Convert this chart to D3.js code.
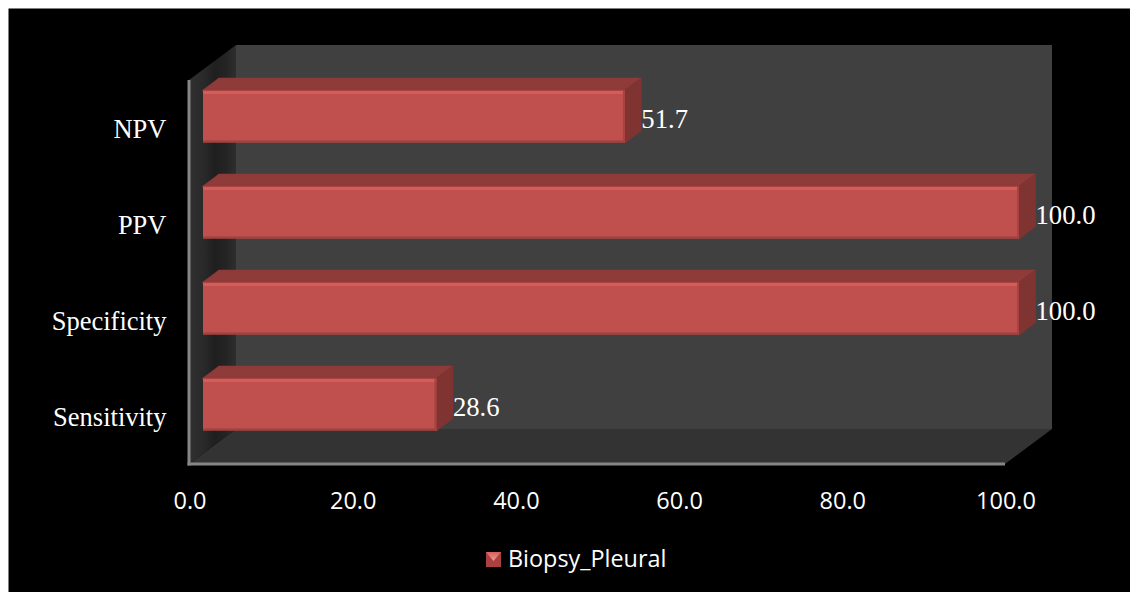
<!DOCTYPE html>
<html>
<head>
<meta charset="utf-8">
<script src="https://cdnjs.cloudflare.com/ajax/libs/d3/7.8.5/d3.min.js"></script>
<style>
  html, body { margin: 0; padding: 0; background: #fff; overflow: hidden; }
  svg { display: block; }
</style>
</head>
<body>
<svg id="chart" width="1130" height="592"></svg>
<script>
// Diagnostic performance of pleural biopsy, drawn as a pseudo-3D horizontal bar chart.
const categories = ["Sensitivity", "Specificity", "PPV", "NPV"];
const values = [28.6, 100.0, 100.0, 51.7];
const valueLabels = ["28.6", "100.0", "100.0", "51.7"];
const axisTicks = [0, 20, 40, 60, 80, 100];
const seriesName = "Biopsy_Pleural";

const svg = d3.select("#chart");
const SERIF = "'Liberation Serif', serif";
const SANS = "'Open Sans', sans-serif";

// Plot box and the oblique offset of the back wall
const plot = { left: 189, right: 1005, top: 80, bottom: 464 };
const depth = { dx: 47, dy: -35 };
const barDepth = { dx: 16, dy: -12 };
const barInset = { dx: 14, dy: -11.5 };
const barHeight = 52;

const x = d3.scaleLinear().domain([0, 100]).range([plot.left, plot.right]);
const y = d3.scaleBand().domain(categories).range([plot.bottom, plot.top]);
const pts = arr => arr.map(p => p.join(",")).join(" ");

const defs = svg.append("defs");
const edge = defs.append("filter").attr("id", "edge")
  .attr("x", "-5%").attr("y", "-100%").attr("width", "110%").attr("height", "300%");
edge.append("feGaussianBlur").attr("stdDeviation", 0.7);
const endEdge = defs.append("filter").attr("id", "endEdge")
  .attr("x", "-200%").attr("y", "-5%").attr("width", "500%").attr("height", "110%");
endEdge.append("feGaussianBlur").attr("stdDeviation", 0.7);

// Horizontal falloff of the shadow on the side wall
const wallShade = defs.append("linearGradient").attr("id", "wallShade")
  .attr("x1", 0).attr("x2", 1).attr("y1", 0).attr("y2", 0);
[[0, "#303030"], [0.3, "#2a2a2a"], [0.55, "#1f1f1f"], [0.78, "#242424"], [1, "#2e2e2e"]]
  .forEach(([o, c]) => wallShade.append("stop").attr("offset", o).attr("stop-color", c));

const legendTop = defs.append("linearGradient").attr("id", "legendTop")
  .attr("x1", 0).attr("x2", 0).attr("y1", 0).attr("y2", 1);
legendTop.append("stop").attr("offset", 0).attr("stop-color", "#d4605c");
legendTop.append("stop").attr("offset", 1).attr("stop-color", "#f09a94");

// Black chart area, leaving the white page margin at top and left
svg.append("rect").attr("x", 8.5).attr("y", 8.5).attr("width", 1122).attr("height", 584).attr("fill", "#000");

const poly = (p, fill) => svg.append("polygon").attr("points", pts(p)).attr("fill", fill);

// Back wall, floor and side wall
const sideWall = [[plot.left, plot.top], [plot.left + depth.dx, plot.top + depth.dy],
  [plot.left + depth.dx, plot.bottom + depth.dy], [plot.left, plot.bottom]];
poly([[plot.left + depth.dx, plot.top + depth.dy], [plot.right + depth.dx, plot.top + depth.dy],
      [plot.right + depth.dx, plot.bottom + depth.dy], [plot.left + depth.dx, plot.bottom + depth.dy]], "#404040");
poly([[plot.left, plot.bottom], [plot.right, plot.bottom],
      [plot.right + depth.dx, plot.bottom + depth.dy], [plot.left + depth.dx, plot.bottom + depth.dy]], "#333333");
poly(sideWall, "url(#wallShade)");

const bars = categories.map((c, i) => ({ c, v: values[i], label: valueLabels[i] }));

// Axis frame
const axisG = svg.append("g");
axisG.append("line").attr("x1", plot.left).attr("x2", plot.left).attr("y1", plot.top).attr("y2", plot.bottom + 1.5)
  .attr("stroke", "#868686").attr("stroke-width", 3);
axisG.append("line").attr("x1", plot.left - 1.5).attr("x2", plot.right).attr("y1", plot.bottom).attr("y2", plot.bottom)
  .attr("stroke", "#868686").attr("stroke-width", 3);

// Bars: top face, end face, front face with its lit upper edge
const barG = svg.append("g").selectAll("g").data(bars).join("g");
const fx0 = x(0) + barInset.dx;
const fx1 = d => x(d.v) + barInset.dx;
const fy0 = d => y(d.c) + y.bandwidth() / 2 + barInset.dy - barHeight / 2;
const fy1 = d => fy0(d) + barHeight;

barG.append("polygon").attr("fill", "#8f3b39")
  .attr("stroke", "#8f3b39").attr("stroke-width", 1.5).attr("stroke-linejoin", "round")
  .attr("points", d => pts([
    [fx0, fy0(d)], [fx0 + barDepth.dx, fy0(d) + barDepth.dy],
    [fx1(d) + barDepth.dx, fy0(d) + barDepth.dy], [fx1(d), fy0(d)]]));
barG.append("polygon").attr("fill", "#7f3432")
  .attr("stroke", "#7f3432").attr("stroke-width", 1.5).attr("stroke-linejoin", "round")
  .attr("points", d => pts([
    [fx1(d), fy0(d)], [fx1(d) + barDepth.dx, fy0(d) + barDepth.dy],
    [fx1(d) + barDepth.dx, fy1(d) + barDepth.dy], [fx1(d), fy1(d)]]));
barG.append("rect").attr("fill", "#c0504d")
  .attr("x", fx0).attr("y", fy0).attr("width", d => fx1(d) - fx0).attr("height", barHeight);
barG.append("rect").attr("fill", "#d65b58").attr("filter", "url(#edge)")
  .attr("x", fx0).attr("y", d => fy0(d) + 0.5).attr("width", d => fx1(d) - fx0).attr("height", 3);
barG.append("rect").attr("fill", "#a23f3d").attr("filter", "url(#edge)")
  .attr("x", fx0).attr("y", d => fy1(d) - 2).attr("width", d => fx1(d) - fx0).attr("height", 2);
barG.append("rect").attr("fill", "#a84341").attr("filter", "url(#endEdge)")
  .attr("x", d => fx1(d) - 2).attr("y", fy0).attr("width", 2).attr("height", barHeight);

// Value labels beside each bar end
barG.append("text")
  .attr("x", d => fx1(d) + barDepth.dx + 0.5)
  .attr("y", d => y(d.c) + y.bandwidth() / 2 - 0.5)
  .attr("fill", "#fff").attr("font-family", SERIF).attr("font-size", 26.7)
  .text(d => d.label);

// Category labels
svg.append("g").selectAll("text").data(categories).join("text")
  .attr("x", 166.5)
  .attr("y", d => y(d) + y.bandwidth() / 2 + 10)
  .attr("text-anchor", "end")
  .attr("fill", "#fff").attr("font-family", SERIF).attr("font-size", 26.5)
  .text(d => d);

// Value axis tick labels
svg.append("g").selectAll("text").data(axisTicks).join("text")
  .attr("x", d => x(d) + 1)
  .attr("y", 509)
  .attr("text-anchor", "middle")
  .attr("fill", "#fff").attr("font-family", SANS).attr("font-size", 23.5)
  .text(d => d3.format(".1f")(d));

// Legend: small pyramid-shaded key and series name
const lg = svg.append("g");
const kx = 486, ky = 552, ks = 15;
lg.append("rect").attr("x", kx).attr("y", ky).attr("width", ks).attr("height", ks).attr("fill", "#a8413f");
lg.append("polygon").attr("points", pts([[kx, ky], [kx + ks, ky], [kx + ks / 2, ky + ks * 0.6]])).attr("fill", "url(#legendTop)");
lg.append("text").attr("x", 508).attr("y", 567)
  .attr("fill", "#fff").attr("font-family", SANS).attr("font-size", 23.4)
  .text(seriesName);
</script>
</body>
</html>
